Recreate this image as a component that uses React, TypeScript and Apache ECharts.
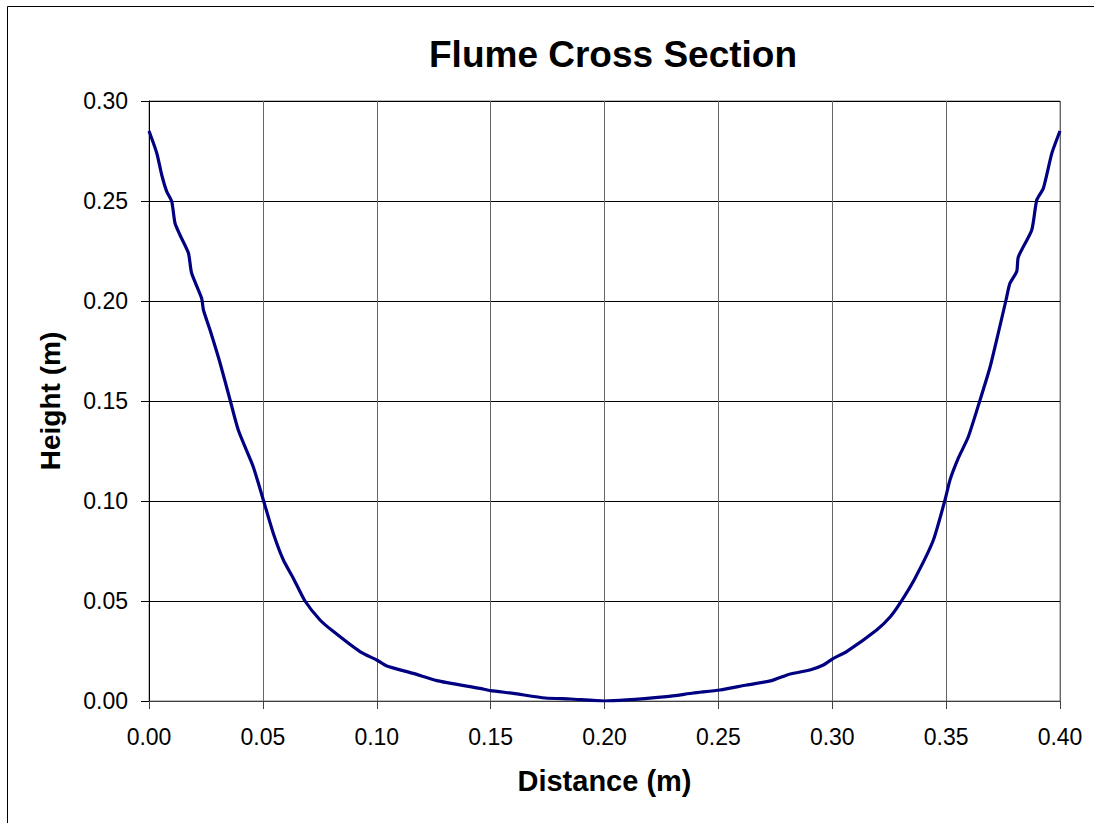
import React, { useEffect, useRef } from "react";
import * as echarts from "echarts";

const titleText = "Flume Cross Section";
const xAxisName = "Distance (m)";
const yAxisName = "Height (m)";

const distance = [
  0.0, 0.0034, 0.0056, 0.0078, 0.01, 0.0114, 0.0136, 0.0173, 0.0187, 0.0231, 0.0239,
  0.0268, 0.0312, 0.0356, 0.0392, 0.0443, 0.0458, 0.048, 0.0502, 0.0546, 0.059, 0.0634,
  0.0685, 0.0751, 0.081, 0.0926, 0.1, 0.1044, 0.116, 0.1263, 0.1453, 0.15, 0.16, 0.174,
  0.185, 0.2, 0.2273, 0.239, 0.2507, 0.2624, 0.2734, 0.2815, 0.2902, 0.2961, 0.3005,
  0.3063, 0.3195, 0.3254, 0.3297, 0.3363, 0.3444, 0.3495, 0.3517, 0.3553, 0.3597, 0.3649,
  0.3693, 0.3727, 0.3763, 0.378, 0.381, 0.3817, 0.3876, 0.3898, 0.3927, 0.3964, 0.4,
];
const height = [
  0.285, 0.274, 0.263, 0.2547, 0.2497, 0.239, 0.233, 0.224, 0.214, 0.2014, 0.1955,
  0.1855, 0.169, 0.1505, 0.1355, 0.1213, 0.117, 0.109, 0.1005, 0.0838, 0.0705, 0.0613,
  0.05, 0.0405, 0.0347, 0.0247, 0.0205, 0.0175, 0.0138, 0.0102, 0.0063, 0.0052, 0.0038, 0.0015,
  0.001, 0.0, 0.0022, 0.004, 0.0055, 0.008, 0.0102, 0.0135, 0.0155, 0.018, 0.0213,
  0.0247, 0.0355, 0.042, 0.0488, 0.0613, 0.0805, 0.1005, 0.1105, 0.1213, 0.132, 0.1505,
  0.167, 0.183, 0.2005, 0.2088, 0.2147, 0.222, 0.2355, 0.2505, 0.2564, 0.2738, 0.285,
];

export default function App() {
  const ref = useRef<HTMLDivElement>(null);
  useEffect(() => {
    if (!ref.current) return;
    const chart = echarts.init(ref.current, null, { renderer: "svg" });
    const font = "Arial, 'Liberation Sans', sans-serif";
    chart.setOption({
      animation: false,
      backgroundColor: "#ffffff",
      textStyle: { fontFamily: font },
      title: {
        text: titleText,
        left: 429,
        top: 36,
        padding: 0,
        textStyle: { fontSize: 37, fontWeight: "bold", color: "#000", fontFamily: font },
      },
      graphic: [
        {
          type: "rect",
          shape: { x: 7.5, y: 6.5, width: 1200, height: 1000 },
          style: { fill: "none", stroke: "#000", lineWidth: 1 },
          silent: true,
          z: 100,
        },
      ],
      grid: {
        left: 149,
        top: 101,
        width: 911,
        height: 600,
        show: true,
        borderColor: "#808080",
        borderWidth: 1,
        backgroundColor: "transparent",
      },
      xAxis: {
        type: "value",
        min: 0,
        max: 0.4,
        interval: 0.05,
        name: xAxisName,
        nameLocation: "middle",
        nameGap: 65,
        nameTextStyle: { fontSize: 29, fontWeight: "bold", color: "#000", fontFamily: font },
        axisLine: { show: true, lineStyle: { color: "#404040", width: 1 } },
        axisTick: { show: true, inside: false, length: 8, lineStyle: { color: "#404040" } },
        axisLabel: {
          fontSize: 23,
          color: "#000",
          margin: 24,
          formatter: (v: number) => v.toFixed(2),
        },
        splitLine: { show: true, lineStyle: { color: "#666", width: 1 } },
      },
      yAxis: {
        type: "value",
        min: 0,
        max: 0.3,
        interval: 0.05,
        name: yAxisName,
        nameLocation: "middle",
        nameGap: 85,
        nameTextStyle: { fontSize: 28, fontWeight: "bold", color: "#000", fontFamily: font },
        axisLine: { show: true, lineStyle: { color: "#000", width: 1 } },
        axisTick: { show: true, inside: false, length: 8, lineStyle: { color: "#000" } },
        axisLabel: {
          fontSize: 23,
          color: "#000",
          margin: 21,
          formatter: (v: number) => v.toFixed(2),
        },
        splitLine: { show: true, lineStyle: { color: "#000", width: 1 } },
      },
      series: [
        {
          type: "line",
          data: distance.map((d, i) => [d, height[i]]),
          showSymbol: false,
          smooth: 0.2,
          lineStyle: { color: "#000080", width: 3.2 },
          itemStyle: { color: "#000080" },
        },
      ],
    });
    return () => chart.dispose();
  }, []);
  return (
    <div
      ref={ref}
      style={{ position: "absolute", left: 0, top: 0, width: 1094, height: 823 }}
    />
  );
}
